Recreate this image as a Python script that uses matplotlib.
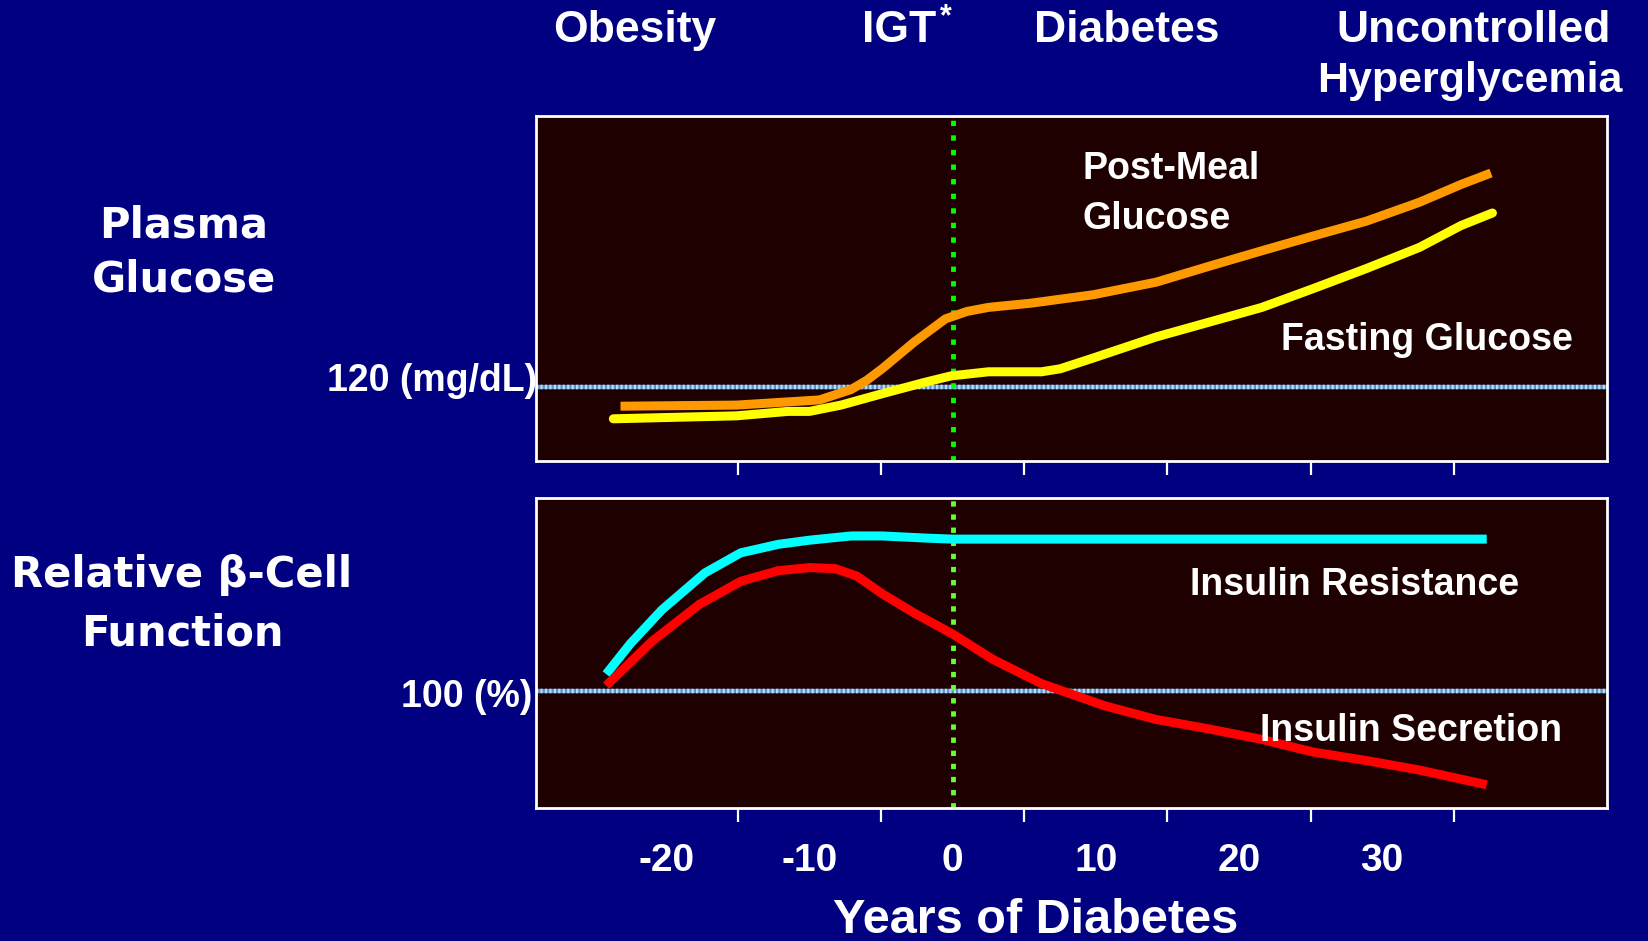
import matplotlib
matplotlib.use('Agg')
import matplotlib.pyplot as plt

plt.rcParams['axes.unicode_minus'] = False
plt.rcParams['font.family'] = ['Liberation Sans', 'DejaVu Sans']
plt.rcParams['font.weight'] = 'bold'

# Plasma glucose curves (mg/dL) vs years of diabetes
post_meal_years = [-23.2, -15.1, -9.3, -7.1, -6.0, -4.9, -2.7, -0.5, 1.0, 2.5, 5.4, 9.8,
                   14.2, 17.9, 21.6, 25.2, 28.9, 32.6, 35.5, 37.6]
post_meal_glucose = [114.8, 115.1, 116.5, 119.3, 121.8, 125.0, 132.1, 138.4, 140.4, 141.5,
                     142.6, 144.9, 148.3, 152.6, 156.8, 160.8, 164.8, 169.9, 174.7, 177.8]

fasting_years = [-23.7, -15.1, -11.5, -10.0, -7.8, -4.9, -1.9, -0.1, 2.5, 6.2, 7.5,
                 9.8, 14.2, 17.9, 21.6, 25.2, 28.9, 32.6, 35.5, 37.7]
fasting_glucose = [111.4, 112.2, 113.4, 113.4, 115.1, 118.2, 121.3, 123.0, 124.1, 124.1, 124.9,
                   127.8, 133.5, 137.5, 141.5, 146.6, 152.0, 157.7, 163.6, 167.0]

# Relative beta-cell function (%)
resistance_years = [-24.2, -22.5, -20.3, -17.3, -14.8, -12.2, -10.0, -7.1, -4.9, -1.9, 0.0, 37.3]
resistance_pct = [108, 122.5, 138.5, 156, 165.5, 169.5, 171.5, 173.5, 173.5, 172.5, 172, 172]

secretion_years = [-24.2, -21.0, -17.7, -14.8, -12.2, -10.0, -8.2, -6.7, -4.9, -2.7, 0.0,
                   2.8, 6.2, 10.6, 14.2, 17.9, 21.6, 25.2, 28.9, 32.6, 37.3]
secretion_pct = [102.5, 123.5, 141, 152, 157, 158.5, 158, 154.5, 146, 137, 127,
                 115, 103.5, 93, 86.5, 82, 77, 71, 67, 62.5, 55.5]

glucose_ref = 120
function_ref = 100
tick_years = [-15, -5, 5, 15, 25, 35]
label_years = [-20, -10, 0, 10, 20, 30]

W, H = 1649, 941
navy = '#000080'
panel = '#1e0000'


def fx(px):
    return px / W


def fy(py):
    return 1 - py / H


fig = plt.figure(figsize=(W / 100, H / 100), dpi=100, facecolor=navy)
ax1 = fig.add_axes([fx(536), fy(461), fx(1607) - fx(536), fy(116) - fy(461)])
ax2 = fig.add_axes([fx(536), fy(808), fx(1607) - fx(536), fy(498) - fy(808)])

for ax in (ax1, ax2):
    ax.set_facecolor(panel)
    ax.set_xlim(-29.1, 45.7)
    for s in ax.spines.values():
        s.set_color('white')
        s.set_linewidth(2)
    ax.set_yticks([])
    ax.set_xticks(tick_years)
    ax.set_xticklabels([])
    ax.tick_params(axis='x', which='major', direction='out', length=10,
                   width=1.6, color='white')

ax1.set_ylim(100, 193.2)
ax2.set_ylim(44.5, 191.5)

# reference levels
for ax, ref in ((ax1, glucose_ref), (ax2, function_ref)):
    ax.axhline(ref, color='#5f8fc0', lw=3.2)
    ax.axhline(ref, color='#b4dcff', lw=3.2, ls=(0, (0.5, 0.5)))
ax1.axvline(0, color='#00ff00', lw=3.5, ls=(0, (1.1, 1.9)), clip_on=False)
ax2.axvline(0, color='#66ff33', lw=3.5, ls=(0, (1.1, 1.6)))

ax1.plot(post_meal_years, post_meal_glucose, color='#ff9900', lw=6.5,
         solid_capstyle='butt', solid_joinstyle='round')
ax1.plot(fasting_years, fasting_glucose, color='#ffff00', lw=6.5,
         solid_capstyle='round', solid_joinstyle='round')
ax2.plot(resistance_years, resistance_pct, color='#00ffff', lw=6.5,
         solid_capstyle='butt', solid_joinstyle='round')
ax2.plot(secretion_years, secretion_pct, color='#ff0000', lw=6.5,
         solid_capstyle='butt', solid_joinstyle='round')

# year labels sit between the tick marks
ax2.set_xticks(label_years, minor=True)
ax2.set_xticklabels([str(v) for v in label_years], minor=True)
ax2.tick_params(axis='x', which='minor', length=0, pad=25, labelsize=28,
                labelcolor='white')

txt = dict(color='white', fontweight='bold')

# stage labels along the top
fig.text(fx(635), fy(42), 'Obesity', ha='center', va='baseline', fontsize=32, **txt)
fig.text(fx(862), fy(42), 'IGT', ha='left', va='baseline', fontsize=32, **txt)
fig.text(fx(940), fy(25), '*', ha='left', va='baseline', fontsize=22, **txt)
fig.text(fx(1127), fy(42), 'Diabetes', ha='center', va='baseline', fontsize=32, **txt)
fig.text(fx(1474), fy(42), 'Uncontrolled', ha='center', va='baseline', fontsize=32, **txt)
fig.text(fx(1470), fy(92), 'Hyperglycemia', ha='center', va='baseline', fontsize=31, **txt)

# panel titles on the left
left = dict(color='white', fontweight='bold', family='DejaVu Sans', fontsize=30, ha='center',
            va='baseline')
fig.text(fx(184), fy(237), 'Plasma', **left)
fig.text(fx(184), fy(292), 'Glucose', **left)
fig.text(fx(182), fy(587), 'Relative β-Cell', **left)
fig.text(fx(182), fy(645), 'Function', **left)

fig.text(fx(537), fy(391), '120 (mg/dL)', ha='right', va='baseline', fontsize=27, **txt)
fig.text(fx(532), fy(707), '100 (%)', ha='right', va='baseline', fontsize=27, **txt)

# curve labels
fig.text(fx(1083), fy(179), 'Post-Meal', ha='left', va='baseline', fontsize=27, **txt)
fig.text(fx(1083), fy(229), 'Glucose', ha='left', va='baseline', fontsize=27, **txt)
fig.text(fx(1281), fy(350), 'Fasting Glucose', ha='left', va='baseline', fontsize=27, **txt)
fig.text(fx(1190), fy(595), 'Insulin Resistance', ha='left', va='baseline', fontsize=27, **txt)
fig.text(fx(1260), fy(741), 'Insulin Secretion', ha='left', va='baseline', fontsize=27, **txt)

fig.text(fx(1036), fy(933), 'Years of Diabetes', ha='center', va='baseline', fontsize=35, **txt)

fig.savefig('out.png', dpi=100, facecolor=navy)
